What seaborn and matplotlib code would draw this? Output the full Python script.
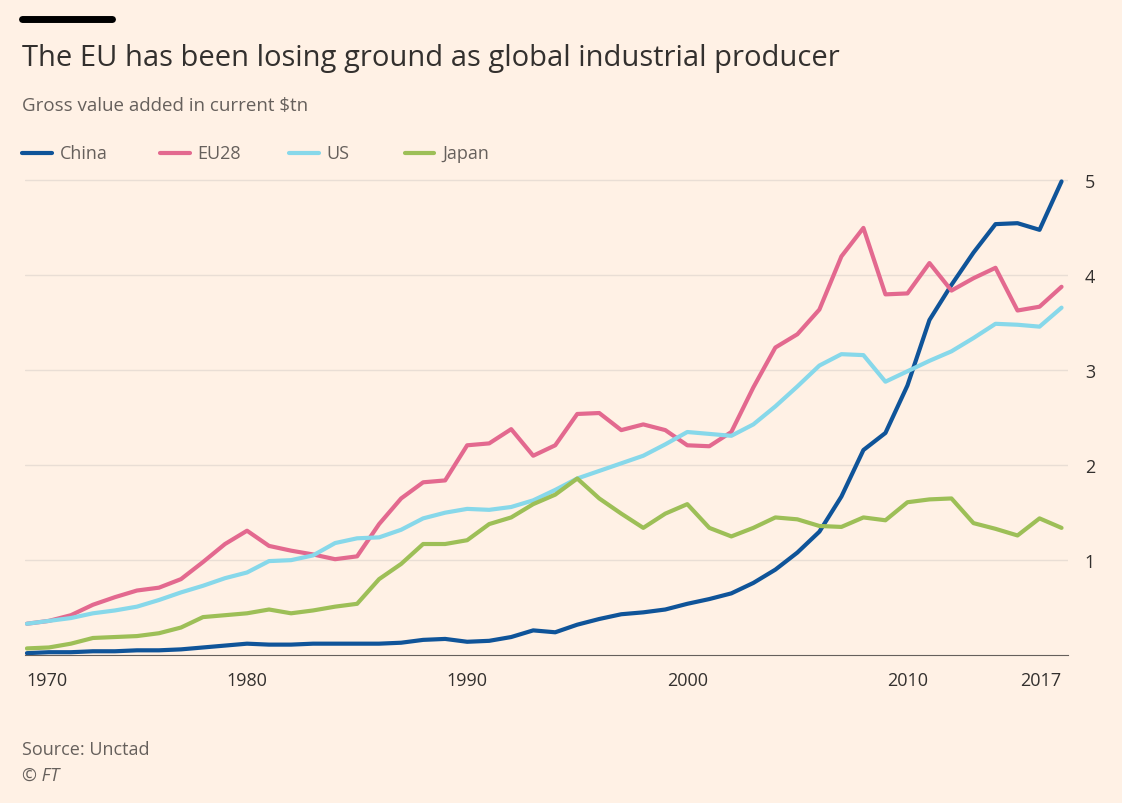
import matplotlib
matplotlib.use("Agg")
import matplotlib.pyplot as plt
import seaborn as sns
import pandas as pd

years = list(range(1970, 2018))
china = [.02,.03,.03,.04,.04,.05,.05,.06,.08,.1,
         .12,.11,.11,.12,.12,.12,.12,.13,.16,.17,
         .14,.15,.19,.26,.24,.32,.38,.43,.45,.48,
         .54,.59,.65,.76,.9,1.08,1.3,1.67,2.16,2.34,
         2.84,3.53,3.9,4.24,4.54,4.55,4.48,4.99]
eu28 = [.33,.36,.42,.53,.61,.68,.71,.8,.98,1.17,
        1.31,1.15,1.1,1.06,1.01,1.04,1.38,1.65,1.82,1.84,
        2.21,2.23,2.38,2.1,2.21,2.54,2.55,2.37,2.43,2.37,
        2.21,2.2,2.35,2.82,3.24,3.38,3.64,4.2,4.5,3.8,
        3.81,4.13,3.84,3.97,4.08,3.63,3.67,3.88]
us = [.33,.36,.39,.44,.47,.51,.58,.66,.73,.81,
      .87,.99,1.0,1.05,1.18,1.23,1.24,1.32,1.44,1.5,
      1.54,1.53,1.56,1.63,1.74,1.86,1.94,2.02,2.1,2.22,
      2.35,2.33,2.31,2.43,2.62,2.83,3.05,3.17,3.16,2.88,
      2.99,3.1,3.2,3.34,3.49,3.48,3.46,3.66]
japan = [.07,.08,.12,.18,.19,.2,.23,.29,.4,.42,
         .44,.48,.44,.47,.51,.54,.8,.96,1.17,1.17,
         1.21,1.38,1.45,1.59,1.69,1.86,1.65,1.49,1.34,1.49,
         1.59,1.34,1.25,1.34,1.45,1.43,1.36,1.35,1.45,1.42,
         1.61,1.64,1.65,1.39,1.33,1.26,1.44,1.34]
series = ["China", "EU28", "US", "Japan"]
colors = ["#0F5499", "#E3698F", "#87D8EA", "#9DBF57"]
xticks = [1970, 1980, 1990, 2000, 2010, 2017]
yticks = [1, 2, 3, 4, 5]

df = pd.DataFrame({"year": years, "China": china, "EU28": eu28, "US": us, "Japan": japan})
long = df.melt(id_vars="year", var_name="country", value_name="value")

bg = "#FFF1E5"
sns.set_style("white")
plt.rcParams["font.family"] = ["Open Sans", "DejaVu Sans"]
fig = plt.figure(figsize=(11.22, 8.04), dpi=100, facecolor=bg)
ax = fig.add_axes([0.022, 0.184, 0.93, 0.608], facecolor=bg)
sns.lineplot(data=long, x="year", y="value", hue="country", hue_order=series,
             palette=colors, linewidth=3, ax=ax, legend=False)
ax.set_xlim(1969.9, 2017.3)
ax.set_ylim(0, 5.15)
ax.yaxis.tick_right()
ax.set_yticks(yticks)
ax.set_xticks(xticks)
ax.set_xticks(range(1970, 2018), minor=True)
ax.tick_params(axis="y", length=0, labelsize=13, colors="#33302E", pad=12)
ax.tick_params(axis="x", which="major", length=8, labelsize=13, colors="#66605C", labelcolor="#33302E")
ax.tick_params(axis="x", which="minor", length=4, colors="#66605C")
labels = ax.get_xticklabels()
labels[0].set_horizontalalignment("left")
labels[-1].set_horizontalalignment("right")
ax.grid(axis="y", color="#E9DED5", linewidth=1)
for s in ["top", "right", "left"]:
    ax.spines[s].set_visible(False)
ax.spines["bottom"].set_color("#66605C")
ax.set_xlabel("")
ax.set_ylabel("")

fig.add_artist(plt.Line2D([0.02, 0.1], [0.975, 0.975], color="black", linewidth=5))
fig.text(0.02, 0.927, "The EU has been losing ground as global industrial producer",
         fontsize=21, color="#33302E", va="center", weight="medium")
fig.text(0.02, 0.868, "Gross value added in current $tn", fontsize=13.5, color="#66605C", va="center")
lx = [0.02, 0.143, 0.258, 0.361]
for x, name, c in zip(lx, series, colors):
    fig.add_artist(plt.Line2D([x, x + 0.026], [0.808, 0.808], color=c, linewidth=3))
    fig.text(x + 0.033, 0.808, name, fontsize=13, color="#66605C", va="center")
fig.text(0.02, 0.067, "Source: Unctad", fontsize=13, color="#66605C", va="center")
fig.text(0.02, 0.035, "© FT", fontsize=13, color="#66605C", va="center", style="italic")
fig.savefig("out.png", dpi=100, facecolor=bg)
